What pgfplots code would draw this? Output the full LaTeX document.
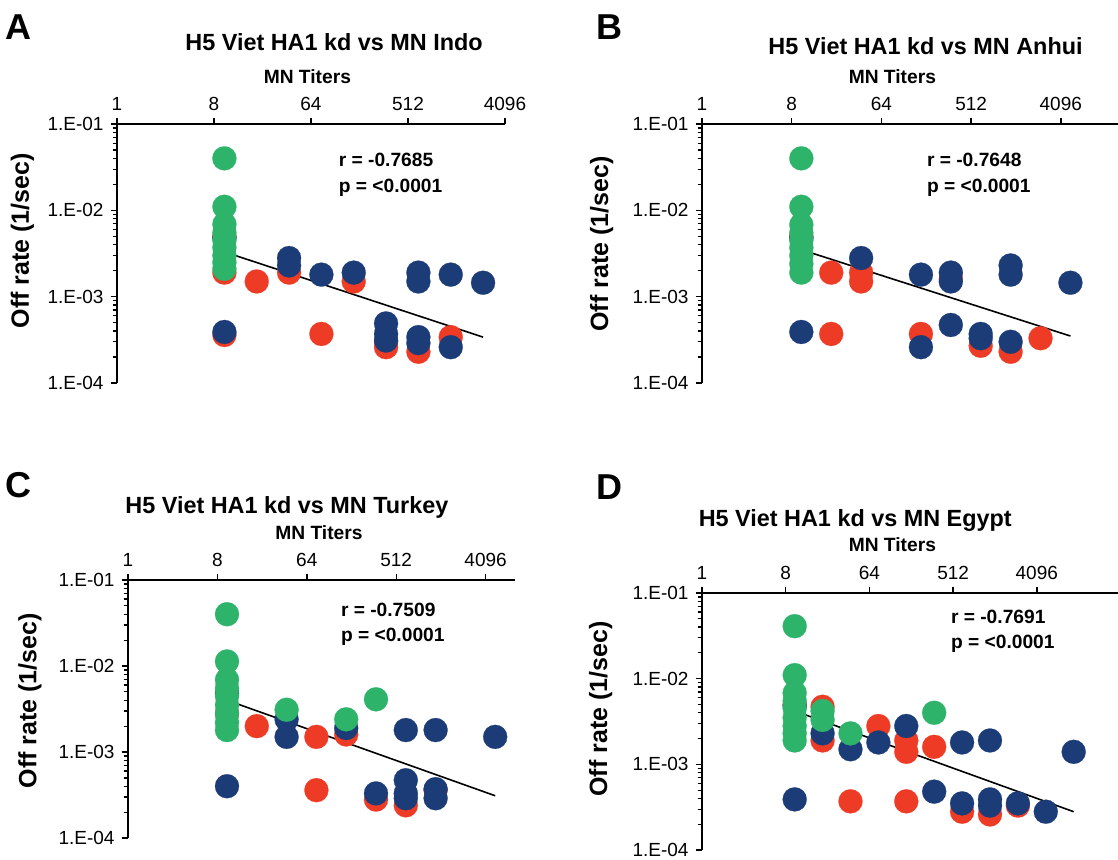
\documentclass[border=0pt]{standalone}
\usepackage{fontspec}
\setmainfont{Liberation Sans}
\usepackage{pgfplots}
\pgfplotsset{compat=1.18}

\definecolor{cgreen}{HTML}{2DB36A}
\definecolor{cred}{HTML}{EE3B25}
\definecolor{cblue}{HTML}{1C3C78}

\pgfplotsset{
  every axis/.append style={
    scale only axis,
    xmin=1, ymin=1e-4, ymax=1e-1,
    axis x line*=top, axis y line*=left,
    axis line style={line width=0.9pt},
    tick style={line width=0.7pt, black},
    tick align=outside,
    major tick length=3.2pt,
    xtick={1,8,64,512,4096}, xticklabels={1,8,64,512,4096},
    xminorticks=false, yminorticks=false,
    ytick={1e-4,1e-3,1e-2,1e-1},
    yticklabels={1.E-04,1.E-03,1.E-02,1.E-01},
    extra y ticks={2e-4,3e-4,4e-4,5e-4,6e-4,7e-4,8e-4,9e-4,
                   2e-3,3e-3,4e-3,5e-3,6e-3,7e-3,8e-3,9e-3,
                   2e-2,3e-2,4e-2,5e-2,6e-2,7e-2,8e-2,9e-2},
    extra y tick labels={},
    extra y tick style={major tick length=2.2pt, tick style={line width=0.6pt}},
    ticklabel style={font=\fontsize{9.5}{11}\selectfont},
    clip=false,
  },
  dots/.style={only marks, mark=*, mark size=6pt, color=#1, mark options={fill=#1, draw=#1, line width=0.1pt}},
  fitline/.style={black, line width=0.8pt, mark=none},
}

\newcommand{\ttl}{\fontsize{11.7}{14}\selectfont\bfseries}
\newcommand{\xlab}{\fontsize{9.6}{12}\selectfont\bfseries}
\newcommand{\ylab}{\fontsize{12.5}{15}\selectfont\bfseries}
\newcommand{\stat}{\fontsize{9.6}{12}\selectfont\bfseries}
\newcommand{\pan}{\fontsize{18}{20}\selectfont\bfseries}

\begin{document}
\begin{tikzpicture}
\useasboundingbox (0pt,0pt) rectangle (559pt,-430pt);
\clip (0pt,0pt) rectangle (559pt,-430pt);

% ---- A: Indo
\begin{loglogaxis}[at={(58.5pt,-62pt)}, anchor=north west,
  width=194pt, height=129.5pt, xmax=4096]
\addplot[dots=cred] coordinates {
(10,0.005) (10,0.0019) (10,0.00036) (20,0.0015) (40,0.0019) (80,0.00037)
(160,0.0015) (320,0.00026) (320,0.0003) (640,0.00023) (1280,0.00034)
};
\addplot[dots=cblue] coordinates {
(10,0.0048) (10,0.00039) (40,0.0028) (40,0.0023) (80,0.0018) (160,0.0019)
(320,0.00049) (320,0.00037) (320,0.00031) (640,0.0019) (640,0.0015)
(640,0.00034) (640,0.00029) (1280,0.0018) (1280,0.00026) (2560,0.00145)
};
\addplot[dots=cgreen] coordinates {
(10,0.040) (10,0.011) (10,0.0069) (10,0.0055) (10,0.0045) (10,0.0037)
(10,0.003) (10,0.0025) (10,0.0021)
};
\addplot[fitline] coordinates {(10,0.0033) (2560,0.00034)};
\end{loglogaxis}

% ---- B: Anhui
\begin{loglogaxis}[at={(351pt,-62pt)}, anchor=north west,
  width=224.25pt, height=129.5pt, xmax=32768]
\addplot[dots=cred] coordinates {
(10,0.005) (20,0.0019) (20,0.00037) (40,0.0019) (40,0.0015) (160,0.00037)
(320,0.0016) (640,0.00027) (1280,0.00023) (2560,0.00033)
};
\addplot[dots=cblue] coordinates {
(10,0.0048) (10,0.00039) (40,0.0028) (160,0.0018) (160,0.00026)
(320,0.0019) (320,0.0015) (320,0.00047) (640,0.00037) (640,0.00033)
(1280,0.0023) (1280,0.0018) (1280,0.0003) (5120,0.00145)
};
\addplot[dots=cgreen] coordinates {
(10,0.040) (10,0.011) (10,0.0068) (10,0.0055) (10,0.0045) (10,0.0037)
(10,0.003) (10,0.0024) (10,0.0019)
};
\addplot[fitline] coordinates {(10,0.0035) (5120,0.00035)};
\end{loglogaxis}

% ---- C: Turkey
\begin{loglogaxis}[at={(64pt,-290pt)}, anchor=north west,
  width=193.7pt, height=129pt, xmax=8192]
\addplot[dots=cred] coordinates {
(10,0.0028) (20,0.0020) (80,0.0015) (80,0.00036) (160,0.0016)
(320,0.00028) (640,0.00024) (1280,0.00036)
};
\addplot[dots=cblue] coordinates {
(10,0.0048) (10,0.0004) (40,0.0024) (40,0.0015) (160,0.0019)
(320,0.00033) (640,0.0018) (640,0.00047) (640,0.00033) (640,0.00029)
(1280,0.0018) (1280,0.00037) (1280,0.00029) (5120,0.0015)
};
\addplot[dots=cgreen] coordinates {
(10,0.040) (10,0.0113) (10,0.0069) (10,0.0055) (10,0.0045) (10,0.0035)
(10,0.0028) (10,0.0022) (10,0.0018) (40,0.0031) (160,0.0024) (320,0.0041)
};
\addplot[fitline] coordinates {(10,0.0040) (5120,0.00031)};
\end{loglogaxis}

% ---- D: Egypt
\begin{loglogaxis}[at={(351pt,-296.5pt)}, anchor=north west,
  width=209.25pt, height=128.5pt, xmax=32768]
\addplot[dots=cred] coordinates {
(10,0.005) (20,0.0047) (20,0.0019) (40,0.00037) (80,0.0028) (160,0.0019)
(160,0.0014) (160,0.00037) (320,0.0016) (640,0.00028) (1280,0.00026)
(2560,0.00033)
};
\addplot[dots=cblue] coordinates {
(10,0.0048) (10,0.00039) (20,0.0023) (40,0.0015) (80,0.0018) (160,0.0028)
(320,0.00048) (640,0.0018) (640,0.00035) (1280,0.0019) (1280,0.00039)
(1280,0.00033) (2560,0.00035) (5120,0.00028) (10240,0.0014)
};
\addplot[dots=cgreen] coordinates {
(10,0.041) (10,0.011) (10,0.0068) (10,0.0055) (10,0.0045) (10,0.0035)
(10,0.0028) (10,0.0023) (10,0.0019) (20,0.0042) (20,0.0033) (40,0.0023)
(320,0.0040)
};
\addplot[fitline] coordinates {(10,0.0042) (10240,0.00028)};
\end{loglogaxis}

% panel letters
\node[font=\pan] at (9pt,-13.5pt) {A};
\node[font=\pan] at (304.5pt,-13.5pt) {B};
\node[font=\pan] at (9pt,-242.5pt) {C};
\node[font=\pan] at (304.5pt,-243.5pt) {D};

% titles
\node[font=\ttl, anchor=base west, inner sep=0pt] at (92.5pt,-25.3pt) {H5 Viet HA1 kd vs MN Indo};
\node[font=\ttl, anchor=base west, inner sep=0pt] at (384pt,-27.5pt) {H5 Viet HA1 kd vs MN Anhui};
\node[font=\ttl, anchor=base west, inner sep=0pt] at (62.5pt,-256.7pt) {H5 Viet HA1 kd vs MN Turkey};
\node[font=\ttl, anchor=base west, inner sep=0pt] at (349.2pt,-263pt) {H5 Viet HA1 kd vs MN Egypt};

% x labels
\node[font=\xlab, anchor=base west, inner sep=0pt] at (131.7pt,-41.7pt) {MN Titers};
\node[font=\xlab, anchor=base west, inner sep=0pt] at (424.2pt,-41.7pt) {MN Titers};
\node[font=\xlab, anchor=base west, inner sep=0pt] at (137.5pt,-269.7pt) {MN Titers};
\node[font=\xlab, anchor=base west, inner sep=0pt] at (424.2pt,-275.8pt) {MN Titers};

% y labels
\node[font=\ylab, rotate=90] at (11.2pt,-120.4pt) {Off rate (1/sec)};
\node[font=\ylab, rotate=90] at (300.8pt,-122pt) {Off rate (1/sec)};
\node[font=\ylab, rotate=90] at (15pt,-350.4pt) {Off rate (1/sec)};
\node[font=\ylab, rotate=90] at (300.3pt,-354.5pt) {Off rate (1/sec)};

% statistics
\node[font=\stat, anchor=base west, inner sep=0pt] at (169.2pt,-83.3pt) {r = -0.7685};
\node[font=\stat, anchor=base west, inner sep=0pt] at (169.2pt,-96.3pt) {p = <0.0001};
\node[font=\stat, anchor=base west, inner sep=0pt] at (463.3pt,-83.3pt) {r = -0.7648};
\node[font=\stat, anchor=base west, inner sep=0pt] at (463.3pt,-96.3pt) {p = <0.0001};
\node[font=\stat, anchor=base west, inner sep=0pt] at (170.3pt,-308pt) {r = -0.7509};
\node[font=\stat, anchor=base west, inner sep=0pt] at (170.3pt,-320.8pt) {p = <0.0001};
\node[font=\stat, anchor=base west, inner sep=0pt] at (475.3pt,-311.7pt) {r = -0.7691};
\node[font=\stat, anchor=base west, inner sep=0pt] at (475.3pt,-324.2pt) {p = <0.0001};
\end{tikzpicture}
\end{document}
